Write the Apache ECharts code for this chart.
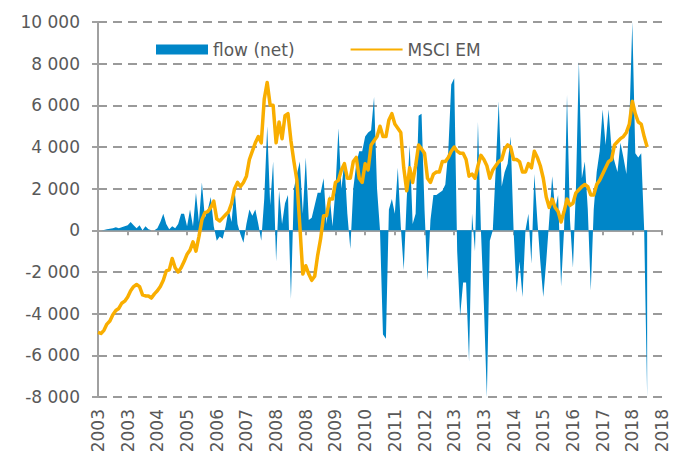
<!DOCTYPE html>
<html><head><meta charset="utf-8">
<script src="https://cdn.jsdelivr.net/npm/echarts@6/dist/echarts.min.js"></script>
<style>html,body{margin:0;padding:0;background:#fff}#c{width:676px;height:459px}</style>
</head><body><div id="c"></div>
<script>
// Monthly data, Jan 2003 .. Jun 2018; axis runs to Nov 2018
const startYear = 2003, nCategories = 191;
const flow = [
 0,0,20,50,80,100,150,100,150,200,
 250,400,250,100,250,0,200,50,0,0,
 100,400,800,300,50,200,100,300,800,800,
 200,1000,200,1800,400,2300,600,1000,1600,200,
 -500,-300,-400,200,1000,400,2000,300,-200,-600,
 300,1000,700,1000,300,-500,1500,5000,1200,3300,
 -1500,1900,300,1300,1700,-3300,2000,2700,3300,800,
 3500,500,600,1200,1800,1800,2500,300,1700,200,
 2000,4900,2000,3300,800,-900,2000,3200,3800,3800,
 4500,4700,4800,6400,2000,0,-5000,-5200,1000,1500,
 800,3000,200,-1900,1500,4100,300,800,5500,5600,
 1000,-2400,500,1700,1700,1800,1900,2200,3800,7000,
 7300,-1000,-4100,-2500,-2500,-6300,800,-1000,5200,0,
 -3600,-8000,-500,0,3000,6200,2100,2800,3200,4500,
 0,-3000,-1500,-3200,0,800,-1600,2700,500,-1500,
 -3200,-1500,500,2600,1000,1700,-2700,0,6500,500,
 -1800,2000,8100,2500,3300,1000,-2900,1000,2800,3800,
 5800,4100,5800,3900,3300,2800,4200,3500,2700,5200,
 10000,3700,3500,3700,0,-8000
];
const msci = [
 -4900,-4950,-4800,-4500,-4350,-4050,-3850,-3750,-3500,-3400,
 -3200,-2900,-2700,-2600,-2700,-3100,-3150,-3150,-3250,-3050,
 -2900,-2700,-2400,-1950,-1900,-1350,-1800,-2000,-1800,-1500,
 -1150,-950,-550,-1000,-300,500,850,900,1100,1400,
 550,450,600,750,900,1300,2000,2300,2100,2300,
 2600,3400,3800,4200,4500,4200,6300,7100,6000,6000,
 4200,5200,4400,5500,5600,4300,3300,2400,200,-2100,
 -1700,-2100,-2400,-2200,-1200,-400,700,700,1500,1500,
 2300,2400,2900,3200,2500,2500,3300,3500,2500,2300,
 3200,2900,4100,4300,4500,5000,4500,4500,5300,5600,
 5100,4900,4700,3000,1900,3000,2300,3100,4100,3900,
 3700,2500,2300,2700,2800,2800,3300,3300,3500,3800,
 4000,3800,3700,3700,3400,2600,2700,2500,3100,3600,
 3400,3100,2500,2900,3100,3300,3400,3900,4100,4000,
 3400,3400,3300,2800,2800,3200,3000,3800,3500,3100,
 2500,1600,1100,1500,1100,900,400,900,1500,1200,
 1300,1800,1950,2100,2200,2100,1700,1700,2200,2400,
 2700,3000,3300,3400,4100,4250,4400,4500,4700,5100,
 6200,5600,5200,5100,4500,4000
];
const yTicks = { min: -8000, max: 10000, interval: 2000 };
const seriesNames = ['flow (net)', 'MSCI EM'];

const categories = [];
for (let i = 0; i < nCategories; i++) {
  const y = startYear + Math.floor(i / 12), m = (i % 12) + 1;
  categories.push(y + '-' + (m < 10 ? '0' + m : m));
}
const FONT = 'DejaVu Sans';
const TXT = '#595959';
const fmt = v => {
  const s = String(Math.abs(v)).replace(/\B(?=(\d{3})+(?!\d))/g, ' ');
  return (v < 0 ? '-' : '') + s;
};

const chart = echarts.init(document.getElementById('c'), null, { renderer: 'svg' });
chart.setOption({
  animation: false,
  grid: { show: false, left: 98, right: 14, top: 22, bottom: 62, containLabel: false },
  legend: {
    top: 36, left: 151, itemWidth: 52, itemHeight: 10, itemGap: 55,
    textStyle: { fontFamily: FONT, fontSize: 17, color: TXT },
    data: [
      { name: seriesNames[0], icon: 'rect' },
      { name: seriesNames[1], itemStyle: { opacity: 0 } }
    ]
  },
  xAxis: [
    {
      type: 'category', data: categories, boundaryGap: false,
      axisLine: { onZero: true, lineStyle: { color: '#A0A0A0', width: 2 } },
      axisTick: { show: true, interval: 9, length: 5, lineStyle: { color: '#A0A0A0', width: 2 } },
      axisLabel: { show: false }, splitLine: { show: false }, splitArea: { show: false }
    },
    {
      type: 'category', data: categories, boundaryGap: false, position: 'bottom',
      axisLine: { show: false, onZero: false }, axisTick: { show: false },
      axisLabel: {
        show: true, interval: 9, rotate: 90, margin: 12,
        fontFamily: FONT, fontSize: 17, color: TXT,
        formatter: v => v.slice(0, 4)
      },
      splitLine: { show: false }, splitArea: { show: false }
    }
  ],
  yAxis: {
    type: 'value', min: yTicks.min, max: yTicks.max, interval: yTicks.interval,
    axisLine: { show: true, onZero: false, lineStyle: { color: '#A0A0A0', width: 2 } },
    axisTick: { show: true, length: 6, lineStyle: { color: '#A0A0A0', width: 2 } },
    axisLabel: { margin: 18, fontFamily: FONT, fontSize: 17, color: TXT, formatter: fmt },
    splitLine: { show: true, lineStyle: { color: '#9A9A9A', width: 2, type: [9, 6] } },
    splitArea: { show: false }
  },
  series: [
    {
      name: seriesNames[0], type: 'line', data: flow,
      symbol: 'none', color: '#0086C8',
      lineStyle: { width: 0 }, areaStyle: { color: '#0086C8', opacity: 1 },
      z: 2
    },
    {
      name: seriesNames[1], type: 'line', data: msci,
      symbol: 'none', color: '#F9AE00',
      lineStyle: { width: 3.5, color: '#F9AE00', join: 'round' },
      z: 3
    }
  ]
});
</script></body></html>
